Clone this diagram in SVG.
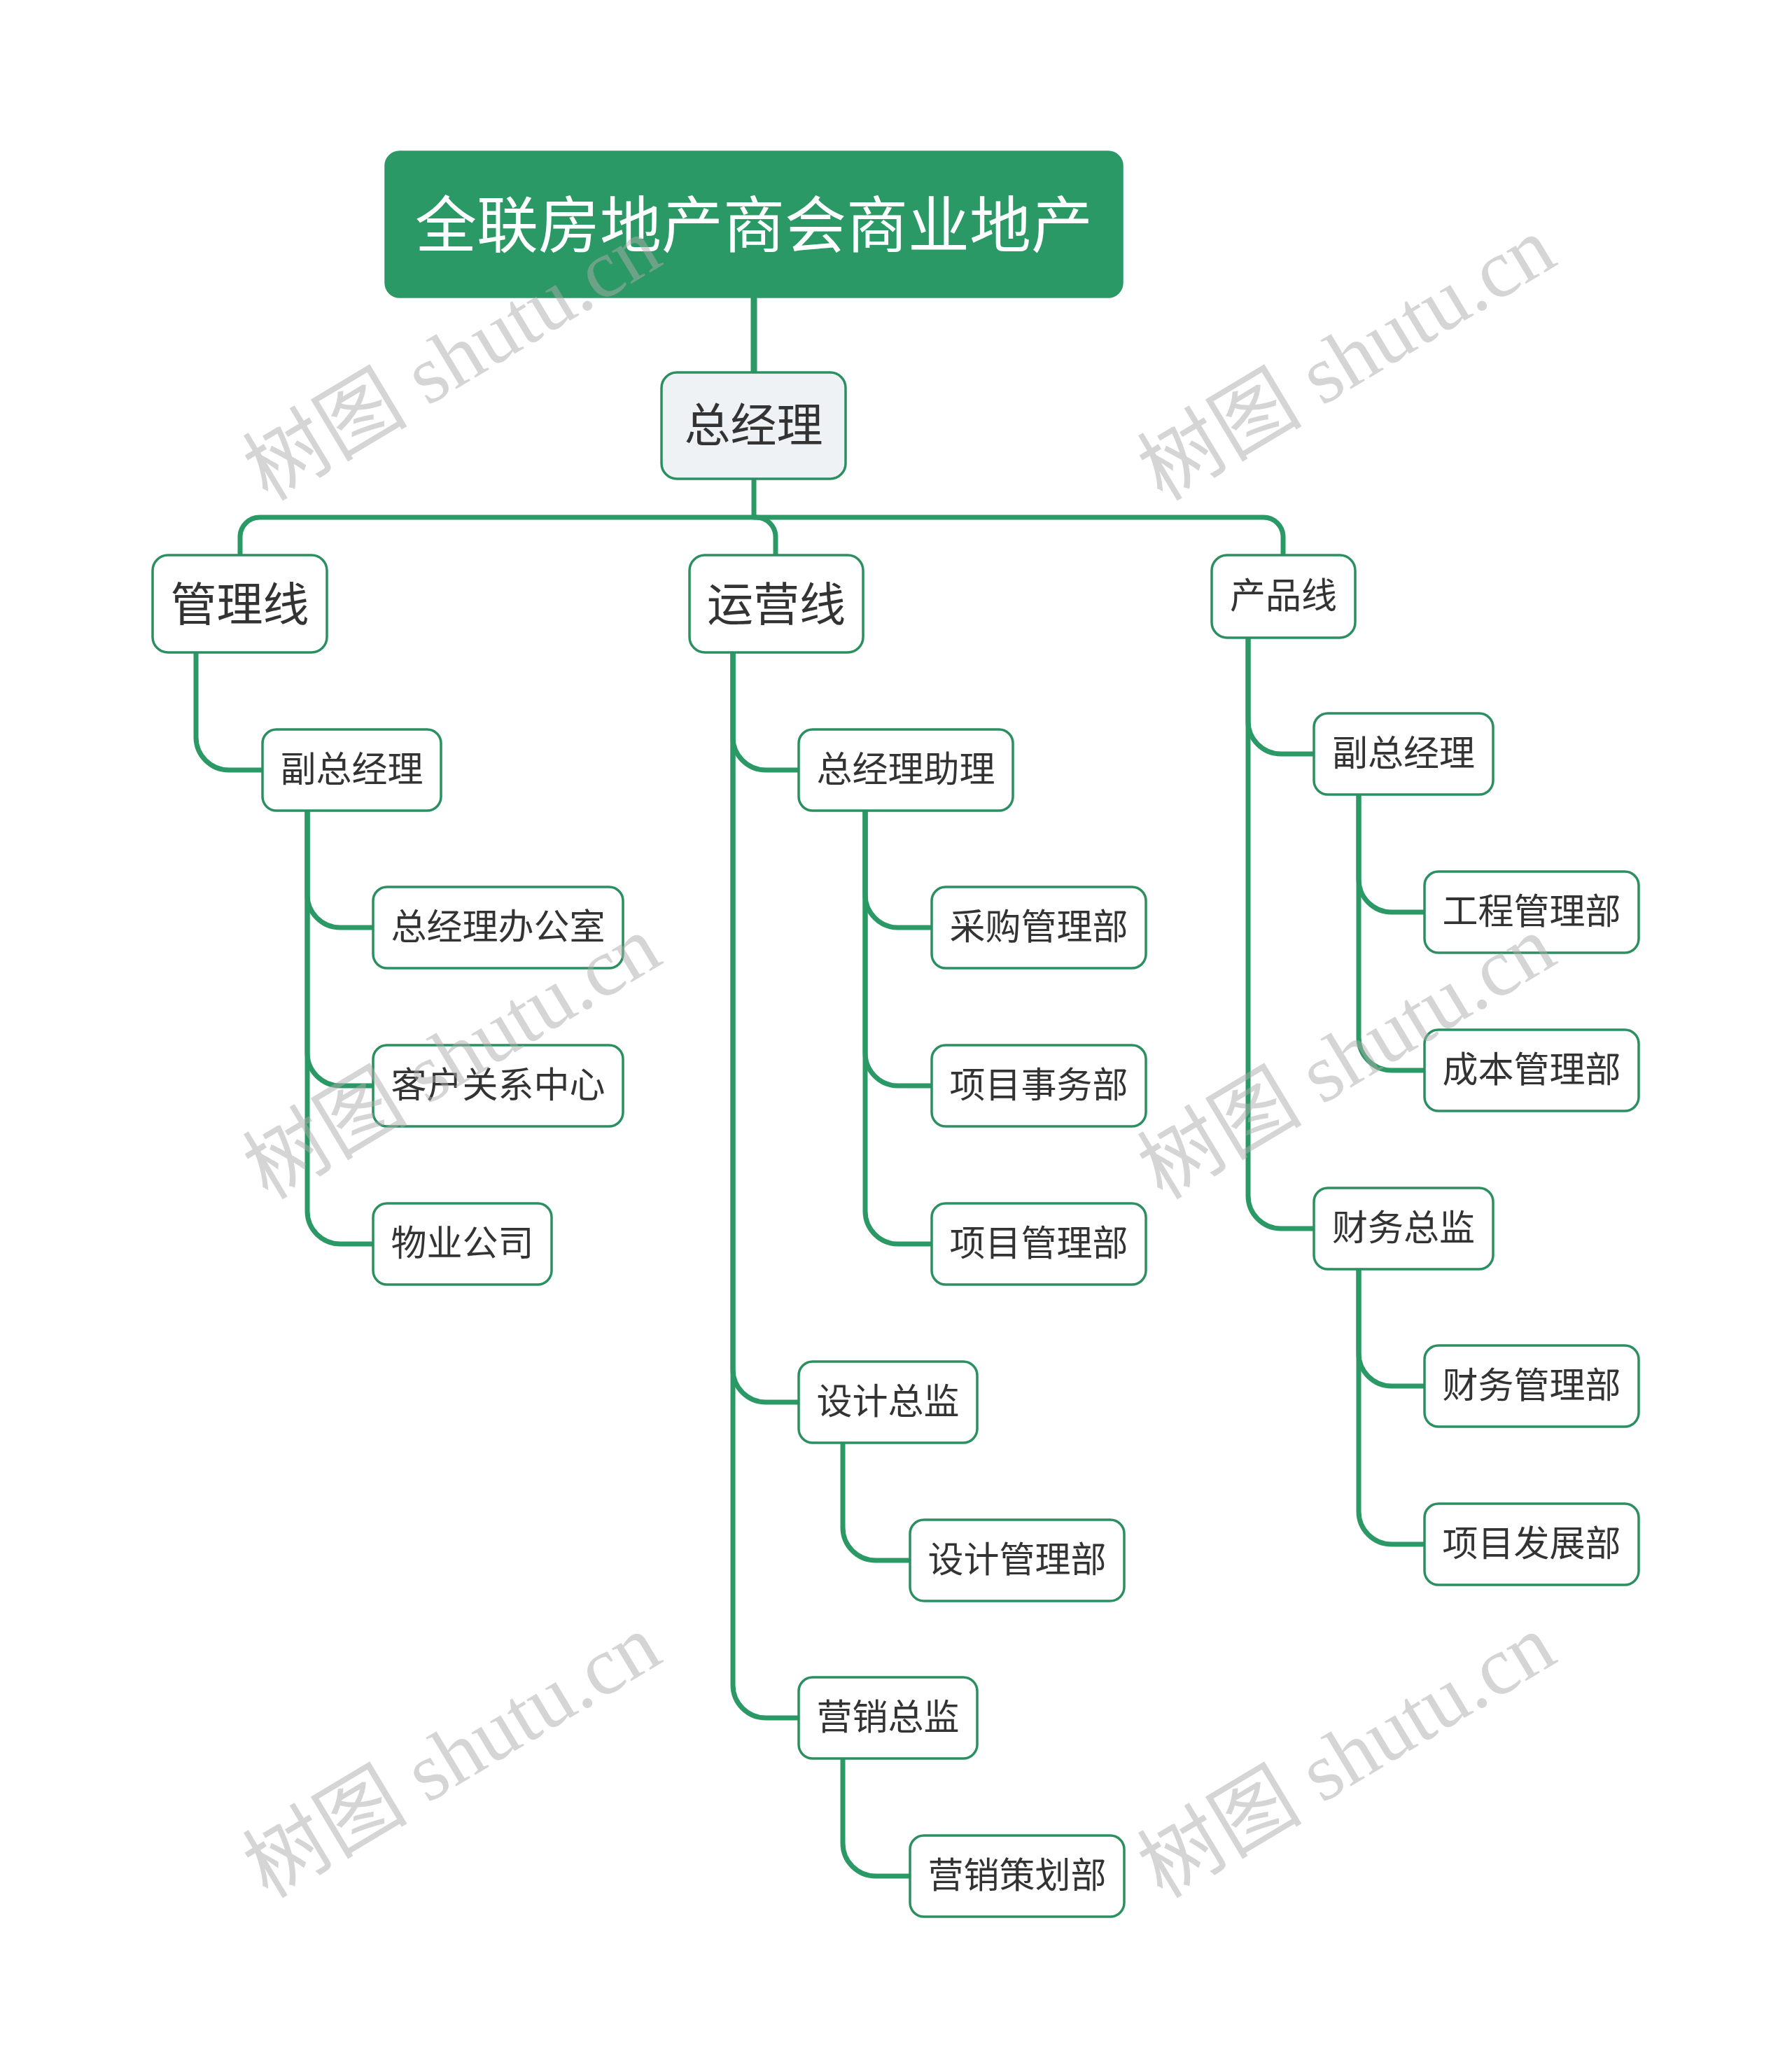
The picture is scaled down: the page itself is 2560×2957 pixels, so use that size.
<svg xmlns="http://www.w3.org/2000/svg" width="2560" height="2957" viewBox="0 0 2560 2957">
<style>
.bg{fill:#ffffff}
.wm{fill:#ababab;fill-opacity:0.5;font-family:"Liberation Serif","Noto Sans CJK SC",serif;font-size:118px}
.conn{fill:none;stroke:#2b9965;stroke-width:7;stroke-linecap:butt}
.node rect{fill:#ffffff;stroke:#2b8f60;stroke-width:3.5}
.node text{fill:#333333;font-family:"Noto Sans CJK SC","Noto Sans",sans-serif;text-anchor:middle;dominant-baseline:central}
.l3 text{font-size:51px}
.l2 text{font-size:66px}
#root rect{fill:#2b9965;stroke:#2b9965}
#root text{fill:#ffffff;font-size:88px}
#n-gm rect{fill:#eef2f5}
</style>
<rect class="bg" x="0" y="0" width="2560" height="2957"/>

<g id="connectors">
<path class="conn" d="M1077 424 V532" style="stroke-width:9"/>
<path class="conn" d="M1077 684 V739"/>
<path class="conn" d="M1077 739 H371 A28 28 0 0 0 343 767 V793"/>
<path class="conn" d="M1077 739 H1080 A28 28 0 0 1 1108 767 V793"/>
<path class="conn" d="M1077 739 H1805 A28 28 0 0 1 1833 767 V793"/>
<!-- 管理线 -->
<path class="conn" d="M280 932 V1053 A47 47 0 0 0 327 1100 H375"/>
<path class="conn" d="M439 1157 V1278 A47 47 0 0 0 486 1325 H533"/>
<path class="conn" d="M439 1157 V1504 A47 47 0 0 0 486 1551 H533"/>
<path class="conn" d="M439 1157 V1730 A47 47 0 0 0 486 1777 H533"/>
<!-- 运营线 -->
<path class="conn" d="M1047 932 V1053 A47 47 0 0 0 1094 1100 H1141"/>
<path class="conn" d="M1047 932 V1956 A47 47 0 0 0 1094 2003 H1141"/>
<path class="conn" d="M1047 932 V2407 A47 47 0 0 0 1094 2454 H1141"/>
<path class="conn" d="M1236 1158 V1278 A47 47 0 0 0 1283 1325 H1331"/>
<path class="conn" d="M1236 1158 V1504 A47 47 0 0 0 1283 1551 H1331"/>
<path class="conn" d="M1236 1158 V1730 A47 47 0 0 0 1283 1777 H1331"/>
<path class="conn" d="M1204 2061 V2182 A47 47 0 0 0 1251 2229 H1300"/>
<path class="conn" d="M1204 2512 V2633 A47 47 0 0 0 1251 2680 H1300"/>
<!-- 产品线 -->
<path class="conn" d="M1783 911 V1030 A47 47 0 0 0 1830 1077 H1877"/>
<path class="conn" d="M1783 911 V1708 A47 47 0 0 0 1830 1755 H1877"/>
<path class="conn" d="M1941 1135 V1256 A47 47 0 0 0 1988 1303 H2035"/>
<path class="conn" d="M1941 1135 V1482 A47 47 0 0 0 1988 1529 H2035"/>
<path class="conn" d="M1941 1813 V1933 A47 47 0 0 0 1988 1980 H2035"/>
<path class="conn" d="M1941 1813 V2159 A47 47 0 0 0 1988 2206 H2035"/>
</g>

<g id="root" class="node">
<rect x="551" y="217" width="1052" height="207" rx="20"/>
<text x="1077" y="314">全联房地产商会商业地产</text>
</g>
<g id="n-gm" class="node l2">
<rect x="945" y="532" width="263" height="152" rx="22"/>
<text x="1076.5" y="602">总经理</text>
</g>
<g id="n-mgmt" class="node l2">
<rect x="218" y="793" width="249" height="139" rx="22"/>
<text x="342.5" y="858">管理线</text>
</g>
<g id="n-ops" class="node l2">
<rect x="985" y="793" width="248" height="139" rx="22"/>
<text x="1109" y="858">运营线</text>
</g>
<g id="n-prod" class="node l3">
<rect x="1731" y="793" width="205" height="118" rx="22"/>
<text x="1833.5" y="847">产品线</text>
</g>

<g id="n-vp1" class="node l3"><rect x="375" y="1042" width="255" height="116" rx="20"/><text x="502.5" y="1095">副总经理</text></g>
<g id="n-gmo" class="node l3"><rect x="533" y="1267" width="357" height="116" rx="20"/><text x="711.5" y="1320">总经理办公室</text></g>
<g id="n-crc" class="node l3"><rect x="533" y="1493" width="357" height="116" rx="20"/><text x="711.5" y="1546">客户关系中心</text></g>
<g id="n-prop" class="node l3"><rect x="533" y="1719" width="255" height="116" rx="20"/><text x="660.5" y="1772">物业公司</text></g>

<g id="n-gma" class="node l3"><rect x="1141" y="1042" width="306" height="116" rx="20"/><text x="1294" y="1095">总经理助理</text></g>
<g id="n-pur" class="node l3"><rect x="1331" y="1267" width="306" height="116" rx="20"/><text x="1484" y="1320">采购管理部</text></g>
<g id="n-pa" class="node l3"><rect x="1331" y="1493" width="306" height="116" rx="20"/><text x="1484" y="1546">项目事务部</text></g>
<g id="n-pm" class="node l3"><rect x="1331" y="1719" width="306" height="116" rx="20"/><text x="1484" y="1772">项目管理部</text></g>
<g id="n-dd" class="node l3"><rect x="1141" y="1945" width="255" height="116" rx="20"/><text x="1268.5" y="1998">设计总监</text></g>
<g id="n-dm" class="node l3"><rect x="1300" y="2171" width="306" height="116" rx="20"/><text x="1453" y="2224">设计管理部</text></g>
<g id="n-md" class="node l3"><rect x="1141" y="2396" width="255" height="116" rx="20"/><text x="1268.5" y="2449">营销总监</text></g>
<g id="n-mp" class="node l3"><rect x="1300" y="2622" width="306" height="116" rx="20"/><text x="1453" y="2675">营销策划部</text></g>

<g id="n-vp2" class="node l3"><rect x="1877" y="1019" width="256" height="116" rx="20"/><text x="2005" y="1072">副总经理</text></g>
<g id="n-eng" class="node l3"><rect x="2035" y="1245" width="306" height="116" rx="20"/><text x="2188" y="1298">工程管理部</text></g>
<g id="n-cost" class="node l3"><rect x="2035" y="1471" width="306" height="116" rx="20"/><text x="2188" y="1524">成本管理部</text></g>
<g id="n-fd" class="node l3"><rect x="1877" y="1697" width="256" height="116" rx="20"/><text x="2005" y="1750">财务总监</text></g>
<g id="n-fm" class="node l3"><rect x="2035" y="1922" width="306" height="116" rx="20"/><text x="2188" y="1975">财务管理部</text></g>
<g id="n-pd" class="node l3"><rect x="2035" y="2148" width="306" height="116" rx="20"/><text x="2188" y="2201">项目发展部</text></g>

<g id="watermarks">
<text class="wm" x="646" y="513" text-anchor="middle" dominant-baseline="central" transform="rotate(-31 646 513)">树图 shutu.cn</text>
<text class="wm" x="1924" y="513" text-anchor="middle" dominant-baseline="central" transform="rotate(-31 1924 513)">树图 shutu.cn</text>
<text class="wm" x="646" y="1511" text-anchor="middle" dominant-baseline="central" transform="rotate(-31 646 1511)">树图 shutu.cn</text>
<text class="wm" x="1924" y="1511" text-anchor="middle" dominant-baseline="central" transform="rotate(-31 1924 1511)">树图 shutu.cn</text>
<text class="wm" x="646" y="2509" text-anchor="middle" dominant-baseline="central" transform="rotate(-31 646 2509)">树图 shutu.cn</text>
<text class="wm" x="1924" y="2509" text-anchor="middle" dominant-baseline="central" transform="rotate(-31 1924 2509)">树图 shutu.cn</text>
</g>
</svg>
